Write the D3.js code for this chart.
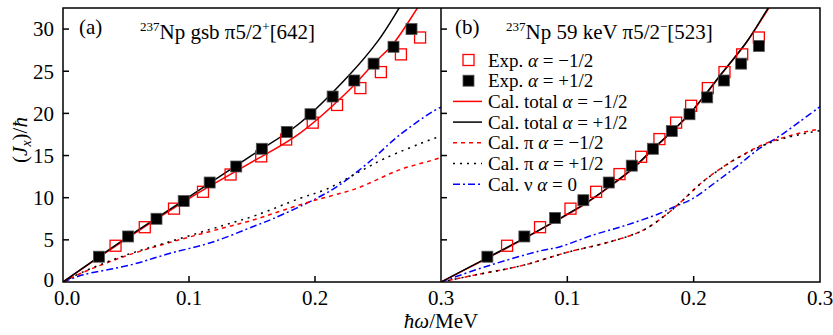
<!DOCTYPE html>
<html>
<head>
<meta charset="utf-8">
<script src="https://cdn.jsdelivr.net/npm/d3@7"></script>
<style>
  body { margin: 0; background: #fff; }
</style>
</head>
<body>
<svg id="chart"></svg>
<script>
// ---- data ----
const xTicks = [0, 0.1, 0.2, 0.3];
const yTicks = [0, 5, 10, 15, 20, 25, 30];

// panel (a) gsb
const aExpMinus = [[0.0417,4.3],[0.0649,6.5],[0.0881,8.7],[0.1111,10.7],[0.133,12.75],[0.1573,14.9],[0.1771,16.9],[0.1982,18.9],[0.2175,21.0],[0.236,23.0],[0.2523,24.9],[0.2682,27.0],[0.2834,29.0]];
const aExpPlus = [[0.0285,3.0],[0.0517,5.4],[0.0742,7.5],[0.0958,9.6],[0.1164,11.8],[0.1375,13.7],[0.1578,15.8],[0.1776,17.8],[0.1964,19.9],[0.214,22.0],[0.2312,23.9],[0.2465,25.9],[0.2623,27.9],[0.2766,30.0]];
const aTotMinus = [[0,0],[0.05,5.1],[0.1,9.9],[0.148,14.06],[0.1876,17.6],[0.2272,22.77],[0.2465,25.9],[0.2623,28.3],[0.2813,32.5],[0.29,34.5]];
const aTotPlus = [[0,0],[0.05,5.2],[0.1,10.1],[0.148,14.85],[0.1876,18.8],[0.2272,24.55],[0.25,28.6],[0.2668,32.5],[0.275,34.5]];
const aPiMinus = [[0,0],[0.016,1.15],[0.05,3.1],[0.085,4.7],[0.127,6.4],[0.153,7.45],[0.1744,8.5],[0.2,9.7],[0.233,11.1],[0.267,13.3],[0.292,14.4],[0.3,14.75]];
const aPiPlus = [[0,0],[0.016,1.2],[0.05,3.2],[0.085,4.8],[0.127,6.7],[0.153,7.9],[0.1876,9.9],[0.209,11.0],[0.233,12.9],[0.256,14.7],[0.292,16.9],[0.3,17.3]];
const aNu = [[0,0],[0.016,0.85],[0.053,2.0],[0.085,3.4],[0.119,4.75],[0.153,6.7],[0.1665,7.5],[0.2009,9.9],[0.2193,11.5],[0.2431,14.25],[0.2668,17.4],[0.2932,20.2],[0.3,20.75]];

// panel (b) 59 keV
const bExpMinus = [[0.0523,4.3],[0.0784,6.5],[0.1025,8.7],[0.1228,10.7],[0.1413,12.8],[0.1584,14.85],[0.1729,16.95],[0.1861,18.9],[0.198,20.9],[0.2112,23.0],[0.2244,24.9],[0.2384,27.0],[0.2516,29.0]];
const bExpPlus = [[0.0367,3.0],[0.066,5.4],[0.0903,7.6],[0.1127,9.7],[0.1328,11.8],[0.151,13.8],[0.1677,15.8],[0.1827,17.9],[0.1967,19.9],[0.2107,21.9],[0.2239,23.9],[0.2376,25.9],[0.2516,28.0]];
const bTotMinus = [[0,0],[0.037,2.85],[0.066,5.15],[0.09,7.15],[0.113,9.15],[0.133,11.25],[0.152,13.45],[0.168,15.75],[0.183,17.85],[0.197,19.95],[0.21,22.35],[0.223,24.85],[0.242,28.45],[0.2595,32.5],[0.27,35]];
const bTotPlus = [[0,0],[0.037,2.9],[0.066,5.2],[0.09,7.2],[0.113,9.2],[0.133,11.3],[0.152,13.5],[0.168,15.8],[0.183,17.9],[0.197,20.0],[0.21,22.4],[0.223,24.9],[0.242,28.5],[0.259,32.5],[0.27,35]];
const bPiMinus = [[0,0],[0.026,0.8],[0.0655,2.0],[0.0993,3.5],[0.1333,4.75],[0.16,6.14],[0.1808,8.3],[0.1914,9.7],[0.2072,11.9],[0.2257,13.9],[0.2416,15.3],[0.2574,16.45],[0.2785,17.45],[0.2943,18.0],[0.3,18.15]];
const bPiPlus = [[0,0],[0.026,0.8],[0.0655,2.0],[0.0993,3.5],[0.1333,4.75],[0.16,6.14],[0.1808,8.3],[0.1914,9.7],[0.2072,11.88],[0.2257,13.86],[0.2416,15.25],[0.2574,16.35],[0.2785,17.3],[0.2943,17.8],[0.3,17.95]];
const bNu = [[0,0],[0.0074,0.4],[0.039,2.0],[0.0787,3.7],[0.0937,4.16],[0.12,5.55],[0.1464,6.73],[0.1729,8.12],[0.1835,8.84],[0.1993,9.9],[0.2178,11.88],[0.2337,13.66],[0.2521,15.84],[0.2679,17.3],[0.2837,19.0],[0.3,20.8]];

// ---- layout ----
const width = 833, height = 335;
const plotTop = 8, plotBottom = 282, plotLeft = 63, plotMid = 441, plotRight = 820;
const red = "#ff0000", blue = "#0000ff";
const serifFont = '"Liberation Serif"';

const svg = d3.select("#chart").attr("width", width).attr("height", height);
const y = d3.scaleLinear().domain([0, 32.5]).range([plotBottom, plotTop]);
const xa = d3.scaleLinear().domain([0, 0.3]).range([plotLeft, plotMid]);
const xb = d3.scaleLinear().domain([0, 0.3]).range([plotMid, plotRight]);

const defs = svg.append("defs");
defs.append("clipPath").attr("id", "clipA").append("rect")
  .attr("x", plotLeft).attr("y", plotTop).attr("width", plotMid - plotLeft).attr("height", plotBottom - plotTop);
defs.append("clipPath").attr("id", "clipB").append("rect")
  .attr("x", plotMid).attr("y", plotTop).attr("width", plotRight - plotMid).attr("height", plotBottom - plotTop);

const styles = {
  totMinus: { color: red, dash: null },
  totPlus: { color: "#000", dash: null },
  piMinus: { color: red, dash: "4,4" },
  piPlus: { color: "#000", dash: "2,5" },
  nu: { color: blue, dash: "7,3,2,3" },
};

function drawPanel(x, clipId, series, expMinus, expPlus) {
  const g = svg.append("g").attr("clip-path", `url(#${clipId})`);
  const line = d3.line().x(d => x(d[0])).y(d => y(d[1])).curve(d3.curveCatmullRom);
  series.forEach(([data, st]) => {
    g.append("path").datum(data).attr("d", line)
      .attr("fill", "none").attr("stroke", st.color).attr("stroke-width", 1.5)
      .attr("stroke-dasharray", st.dash);
  });
  const s = 11;
  g.selectAll(".open").data(expMinus).enter().append("rect")
    .attr("x", d => x(d[0]) - s / 2).attr("y", d => y(d[1]) - s / 2)
    .attr("width", s).attr("height", s)
    .attr("fill", "none").attr("stroke", red).attr("stroke-width", 1.3);
  g.selectAll(".filled").data(expPlus).enter().append("rect")
    .attr("x", d => x(d[0]) - s / 2).attr("y", d => y(d[1]) - s / 2)
    .attr("width", s).attr("height", s)
    .attr("fill", "#000").attr("stroke", "#555").attr("stroke-width", 0.8);
}

drawPanel(xa, "clipA", [
  [aNu, styles.nu], [aPiMinus, styles.piMinus], [aPiPlus, styles.piPlus],
  [aTotMinus, styles.totMinus], [aTotPlus, styles.totPlus],
], aExpMinus, aExpPlus);

drawPanel(xb, "clipB", [
  [bNu, styles.nu], [bPiMinus, styles.piMinus], [bPiPlus, styles.piPlus],
  [bTotMinus, styles.totMinus], [bTotPlus, styles.totPlus],
], bExpMinus, bExpPlus);

// ---- frame and ticks ----
const axes = svg.append("g").attr("stroke", "#000").attr("stroke-width", 1.5);
axes.append("rect").attr("x", plotLeft).attr("y", plotTop)
  .attr("width", plotRight - plotLeft).attr("height", plotBottom - plotTop).attr("fill", "none");
axes.append("line").attr("x1", plotMid).attr("x2", plotMid).attr("y1", plotTop).attr("y2", plotBottom);

[plotLeft, plotMid].forEach(x0 => {
  axes.selectAll(null).data(yTicks.slice(1)).enter().append("line")
    .attr("x1", x0).attr("x2", x0 + 6)
    .attr("y1", d => y(d)).attr("y2", d => y(d));
});
[xa, xb].forEach(x => {
  axes.selectAll(null).data([0.1, 0.2]).enter().append("line")
    .attr("x1", d => x(d)).attr("x2", d => x(d))
    .attr("y1", plotBottom).attr("y2", plotBottom - 6);
});

const fs = 21;
svg.append("g").selectAll("text").data(yTicks).enter().append("text")
  .attr("x", 54).attr("y", d => y(d)).attr("dy", d => d === 0 ? "0.25em" : "0.35em")
  .attr("text-anchor", "end").attr("font-size", fs).text(d => d);

const xLabels = xTicks.map(d => [xa(d) + (d === 0 ? 4 : 0), d3.format(".1f")(d)])
  .concat(xTicks.slice(1).map(d => [xb(d), d3.format(".1f")(d)]));
svg.append("g").selectAll("text").data(xLabels).enter().append("text")
  .attr("x", d => d[0]).attr("y", 305).attr("text-anchor", "middle")
  .attr("font-size", fs).text(d => d[1]);

// axis titles
const xt = svg.append("text").attr("x", plotMid).attr("y", 328)
  .attr("text-anchor", "middle").attr("font-size", fs);
xt.append("tspan").attr("font-style", "italic").text("ħω");
xt.append("tspan").text("/MeV");

const yt = svg.append("text").attr("transform", "translate(27,140) rotate(-90)")
  .attr("text-anchor", "middle").attr("font-size", fs);
yt.append("tspan").text("(");
yt.append("tspan").attr("font-style", "italic").text("J");
yt.append("tspan").attr("font-style", "italic").attr("font-size", 14).attr("dy", 4).text("x");
yt.append("tspan").attr("dy", -4).text(")/");
yt.append("tspan").attr("font-style", "italic").text("ħ");

// panel titles
function panelTitle(x0, label, xTitle, parts) {
  svg.append("text").attr("x", x0).attr("y", 34).attr("font-size", 21).text(label);
  const t = svg.append("text").attr("x", xTitle).attr("y", 39).attr("font-size", 21);
  parts.forEach(p => {
    const ts = t.append("tspan").text(p.t);
    if (p.sup) ts.attr("font-size", 13).attr("dy", -8);
    if (p.down) ts.attr("dy", 8);
  });
}
panelTitle(79, "(a)", 140, [
  { t: "237", sup: true }, { t: "Np gsb π5/2", down: true },
  { t: "+", sup: true }, { t: "[642]", down: true },
]);
panelTitle(455, "(b)", 506, [
  { t: "237", sup: true }, { t: "Np 59 keV π5/2", down: true },
  { t: "−", sup: true }, { t: "[523]", down: true },
]);

// legend
const legendItems = [
  { kind: "open", parts: ["Exp. ", "α", " = −1/2"] },
  { kind: "filled", parts: ["Exp. ", "α", " = +1/2"] },
  { kind: "line", st: styles.totMinus, parts: ["Cal. total ", "α", " = −1/2"] },
  { kind: "line", st: styles.totPlus, parts: ["Cal. total ", "α", " = +1/2"] },
  { kind: "line", st: styles.piMinus, parts: ["Cal. π ", "α", " = −1/2"] },
  { kind: "line", st: styles.piPlus, parts: ["Cal. π ", "α", " = +1/2"] },
  { kind: "line", st: styles.nu, parts: ["Cal. ν ", "α", " = 0"] },
];
const lg = svg.append("g");
legendItems.forEach((item, i) => {
  const cy = 60 + i * 20.7;
  if (item.kind === "open") {
    lg.append("rect").attr("x", 463).attr("y", cy - 5.5).attr("width", 11).attr("height", 11)
      .attr("fill", "none").attr("stroke", red).attr("stroke-width", 1.3);
  } else if (item.kind === "filled") {
    lg.append("rect").attr("x", 463).attr("y", cy - 5.5).attr("width", 11).attr("height", 11)
      .attr("fill", "#000").attr("stroke", "#555").attr("stroke-width", 0.8);
  } else {
    lg.append("line").attr("x1", 453).attr("x2", 482).attr("y1", cy).attr("y2", cy)
      .attr("stroke", item.st.color).attr("stroke-width", 1.5)
      .attr("stroke-dasharray", item.st.dash);
  }
  const t = lg.append("text").attr("x", 488).attr("y", cy + 6.5).attr("font-size", 19);
  t.append("tspan").text(item.parts[0]);
  t.append("tspan").attr("font-style", "italic").text(item.parts[1]);
  t.append("tspan").text(item.parts[2]);
});

// serif face on every text node
svg.selectAll("text, tspan").style("font-family", serifFont);
</script>
</body>
</html>
